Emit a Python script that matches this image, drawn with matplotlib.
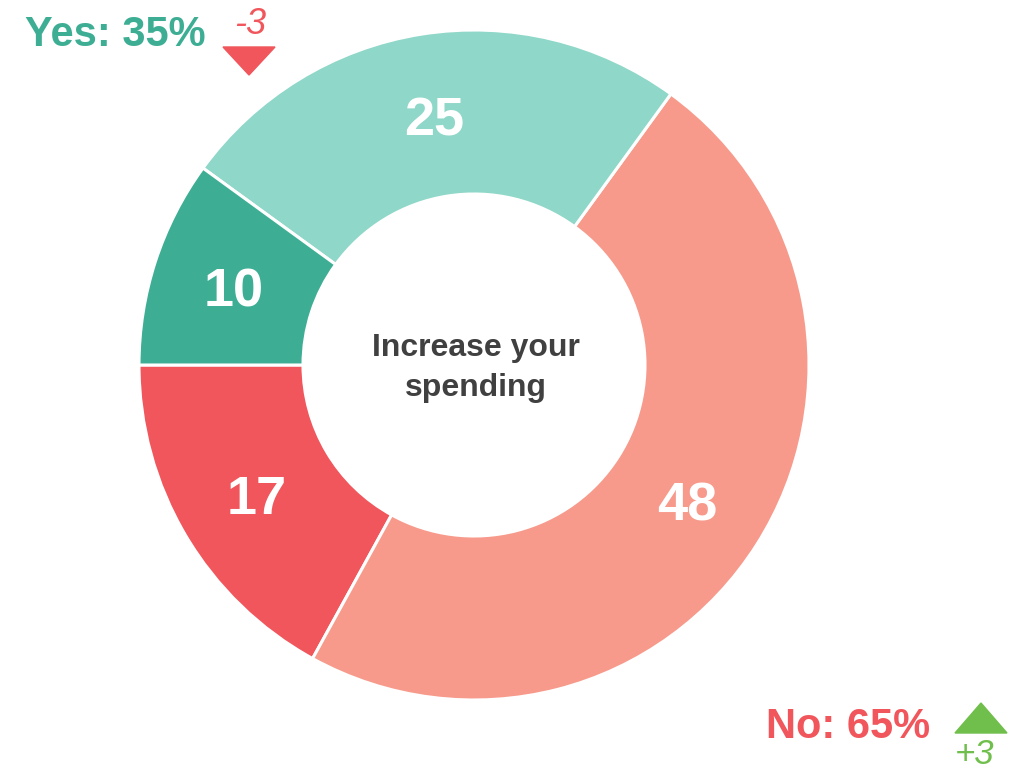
import numpy as np
import matplotlib.pyplot as plt
from matplotlib.patches import Polygon

plt.rcParams['font.family'] = ['Liberation Sans', 'DejaVu Sans']

# data
labels = ['17', '48', '25', '10']
values = [17, 48, 25, 10]
colors = ['#F0565B', '#F79A8B', '#8FD7C8', '#3DAE94']
center_title = 'Increase your\nspending'
yes_text, yes_change = 'Yes: 35%', '-3'
no_text, no_change = 'No: 65%', '+3'

W, H = 1023, 773
fig = plt.figure(figsize=(W / 100, H / 100), dpi=100)
ax = fig.add_axes([0, 0, 1, 1])

cx, cy = 474, H - 365
r_out, ring = 335, 164

wedges, _ = ax.pie(values, colors=colors, startangle=180, counterclock=True,
                   radius=r_out, center=(cx, cy),
                   wedgeprops=dict(width=ring, edgecolor='white', linewidth=2.2))

# value labels in the middle of the ring
r_mid = r_out - ring / 2
for w, lab in zip(wedges, labels):
    ang = np.deg2rad((w.theta1 + w.theta2) / 2)
    ax.text(cx + r_mid * np.cos(ang), cy + r_mid * np.sin(ang) - 6, lab,
            ha='center', va='center', color='white', fontsize=39, fontweight='bold')

ax.text(cx + 2, cy - 3, center_title, ha='center', va='center', color='#404040',
        fontsize=23, fontweight='bold', linespacing=1.4)

# Yes / No summaries with change markers
ax.text(25, H - 35, yes_text, ha='left', va='center', color='#3DAE94',
        fontsize=30, fontweight='bold')
ax.text(250, H - 25, yes_change, ha='center', va='center', color='#F0565B',
        fontsize=26, style='italic')
ax.add_patch(Polygon([(223, H - 47), (275, H - 47), (249, H - 75)],
                     closed=True, color='#F0565B'))

ax.text(930, H - 727, no_text, ha='right', va='center', color='#F0565B',
        fontsize=30, fontweight='bold')
ax.add_patch(Polygon([(955, H - 733), (1007, H - 733), (981, H - 703)],
                     closed=True, color='#70BF4C'))
ax.text(975, H - 755, no_change, ha='center', va='center', color='#70BF4C',
        fontsize=25, style='italic')

ax.set_xlim(0, W)
ax.set_ylim(0, H)
ax.set_aspect('equal')
ax.axis('off')

fig.savefig('out.png', dpi=100, facecolor='white')
